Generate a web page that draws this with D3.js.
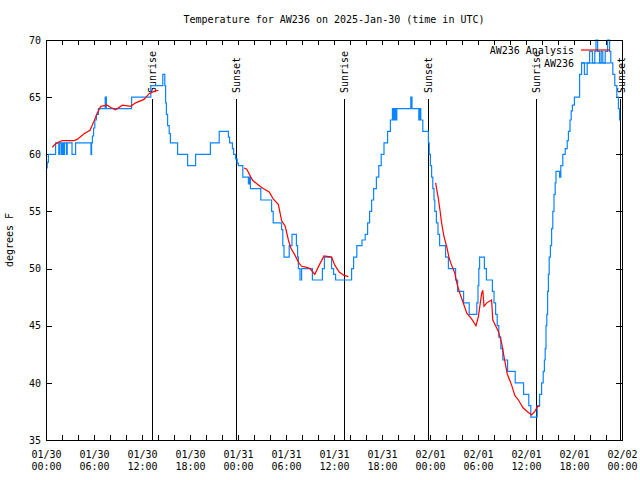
<!DOCTYPE html>
<html><head><meta charset="utf-8">
<script src="https://cdn.jsdelivr.net/npm/d3@7"></script>
<style>
body{margin:0;background:#fff;}
text{font-family:"DejaVu Sans Mono",monospace;font-size:10px;fill:#000;}
</style></head>
<body><svg id="c" width="640" height="480"></svg>
<script>
// Hours since 2025-01-30 00:00 UTC
const obsHours = [0.0,0.15,0.3,1.2,1.6,1.7,1.9,2.0,2.15,2.3,2.55,2.65,3.25,3.7,5.62,5.7,5.8,5.95,6.1,6.3,6.55,7.4,7.55,10.7,13.1,14.6,14.85,14.95,15.05,15.2,15.4,15.55,16.45,17.7,18.7,20.55,21.65,22.8,22.95,23.3,23.45,23.7,23.9,24.05,24.6,25.3,25.4,25.55,26.85,28.2,28.4,29.45,29.6,29.75,30.4,30.75,31.3,31.45,31.55,31.75,31.95,33.3,34.55,34.8,35.7,35.95,36.2,38.2,38.45,38.85,39.5,39.9,40.2,40.45,40.7,40.95,41.3,41.6,41.9,42.25,42.7,43.05,43.3,43.45,43.55,43.7,43.85,45.6,45.75,46.6,46.7,46.85,47.1,47.8,47.9,48.05,48.2,48.35,48.5,48.6,48.8,49.0,49.2,49.95,50.3,51.2,51.45,52.2,52.9,53.85,54.0,54.1,54.2,54.8,55.05,55.8,56.0,56.2,56.4,56.6,56.85,57.1,57.7,58.65,59.7,60.35,60.6,61.4,61.7,61.95,62.15,62.3,62.4,62.5,62.6,62.7,62.8,62.9,63.05,63.2,63.35,63.5,63.65,63.75,64.2,64.35,64.6,64.9,65.15,65.3,65.5,65.65,65.8,66.05,66.7,66.95,67.3,67.65,67.95,68.3,68.6,68.75,68.95,69.2,69.4,69.6,69.9,70.2,70.45,70.6,70.85,71.1,71.35,71.55,71.7,71.8];
const obsTemps = [58.8,59.3,60,61,60,61,60,61,60,61,60,61,60,61,60,61,61.6,62.3,63,63.5,64,65,64,65,66,67,66,64.5,63.5,62.5,61.8,61,60,59,60,61,62,61.5,61,60.5,60,59.6,59.2,59,58,57.4,58,57,56,55,54,53.4,52,51,52,53,52,51,50,49,50,49,50,51,50,49.5,49,50,51,52,52.5,53,54,55,56,57,58,59,60,61,62,63,64,63,64,63,64,65,64,63,64,63,62,61,60,59,58,57,56,55,54,53,52,51,50,49,48,47,46,47,48.5,50,51,50,49,48,47,46,45,44,43,42,41,40,39,38,37,38,39,40,41,42,43,45,46,48,49.5,51,52,53.5,55,56.5,57.5,58.5,58,59,60,60.5,61.2,62,63,63.8,64.3,65,67,68,67,68,69,68,69,70,69,68,69,68,69,70,69,68,67,66,65,64,63,63];

const anaHours = [0.8,1.0,1.4,2.05,3.5,3.9,4.75,5.5,6.0,6.4,6.85,7.65,8.1,8.7,9.55,10.6,11.2,12.25,12.9,13.5,14.05,
  null,
  24.75,25.1,25.6,25.85,26.75,27.15,27.9,28.4,29.05,29.45,29.9,30.3,30.6,31.1,31.6,31.95,32.6,33.0,33.6,34.15,34.75,35.7,36.1,36.65,37.25,37.8,
  null,
  48.7,49.05,49.25,49.45,49.75,50.1,50.4,50.7,51.1,51.4,51.75,51.95,52.6,53.2,53.75,54.05,54.45,54.6,54.75,55.1,55.7,55.85,56.55,56.95,57.25,57.65,58.2,58.6,59.05,59.65,60.3,60.7,61.1,61.4,61.75];
const anaTemps = [60.6,60.8,61,61.2,61.2,61.3,61.8,62.1,62.9,63.6,64.2,64.3,64.1,63.9,64.3,64.2,64.5,64.8,65.3,65.5,65.6,
  null,
  58.8,58.7,58,57.7,57.2,57,56.7,56.1,55.6,54.2,53.7,52.5,51.8,51.2,50.5,50.2,50.1,50,49.5,50.3,51.1,51,50.3,49.7,49.4,49.3,
  null,
  57.5,56.1,55.1,54,52.8,51.9,50.9,50.3,49.6,48.6,47.8,47.4,46.1,45.6,45,45.8,47.8,48.1,46.7,47,47.25,45.5,44.5,43.5,42.3,40.8,39.8,38.9,38.5,37.8,37.4,37.2,37.5,37.9,38];

const sunHours = [13.25,23.75,37.25,47.75,61.25,71.85];
const sunLabels = ["Sunrise","Sunset","Sunrise","Sunset","Sunrise","Sunset"];

const xTickHours = [0,6,12,18,24,30,36,42,48,54,60,66,72];
const xTickDates = ["01/30","01/30","01/30","01/30","01/31","01/31","01/31","01/31","02/01","02/01","02/01","02/01","02/02"];
const xTickTimes = ["00:00","06:00","12:00","18:00","00:00","06:00","12:00","18:00","00:00","06:00","12:00","18:00","00:00"];
const yTicks = [35,40,45,50,55,60,65,70];

const seriesNames = ["AW236 Analysis","AW236"];
const seriesColors = ["#ff0000","#0a84ff"];

const svg = d3.select("#c");
const L=46,R=622,T=40,B=440;
const x = d3.scaleLinear().domain([0,72]).range([L,R]);
const y = d3.scaleLinear().domain([35,70]).range([B,T]);

// title
svg.append("text").attr("x",(L+R)/2).attr("y",23).attr("text-anchor","middle")
  .text("Temperature for AW236 on 2025-Jan-30 (time in UTC)");
// y label
svg.append("text").attr("transform","translate(13,240) rotate(-90)").attr("text-anchor","middle")
  .text("degrees F");

// tick marks (inward) on four sides
const minor = d3.range(0,73,2);
function tickAxis(ax, tr){
  const g = svg.append("g").attr("transform",tr).call(ax);
  g.select(".domain").remove();
  g.selectAll("text").remove();
  g.selectAll("line").attr("stroke","#000").attr("shape-rendering","crispEdges");
}
tickAxis(d3.axisBottom(x).tickValues(minor).tickSize(-5), `translate(0,${B})`);
tickAxis(d3.axisTop(x).tickValues(minor).tickSize(-5), `translate(0,${T})`);
tickAxis(d3.axisLeft(y).tickValues(yTicks).tickSize(-6), `translate(${L},0)`);
tickAxis(d3.axisRight(y).tickValues(yTicks).tickSize(-6), `translate(${R},0)`);

// y labels
const ya = svg.append("g").attr("transform",`translate(${L},0)`)
  .call(d3.axisLeft(y).tickValues(yTicks).tickSize(0).tickPadding(5).tickFormat(d3.format("d")));
ya.select(".domain").remove();
ya.selectAll("text").style("font-family","DejaVu Sans Mono, monospace").style("font-size","10px").attr("fill","#000");

// x labels (two lines)
const xa = svg.append("g").attr("transform",`translate(0,${B})`)
  .call(d3.axisBottom(x).tickValues(xTickHours).tickSize(0).tickFormat(""));
xa.select(".domain").remove();
xa.selectAll(".tick").each(function(d,i){
  const t = d3.select(this).append("text").attr("text-anchor","middle")
    .style("font-family","DejaVu Sans Mono, monospace").style("font-size","10px").attr("fill","#000");
  t.append("tspan").attr("x",0).attr("y",18).text(xTickDates[i]);
  t.append("tspan").attr("x",0).attr("y",30).text(xTickTimes[i]);
});

// sunrise/sunset
sunHours.forEach((h,i)=>{
  svg.append("line").attr("x1",x(h)).attr("x2",x(h)).attr("y1",99).attr("y2",B)
    .attr("stroke","#000").attr("stroke-width",1).attr("shape-rendering","crispEdges");
  svg.append("text").attr("transform",`translate(${x(h)+4},93) rotate(-90)`)
    .attr("text-anchor","start").text(sunLabels[i]);
});

// observed (step) line
const obs = obsHours.map((h,i)=>[h,obsTemps[i]]);
svg.append("path").datum(obs)
  .attr("d", d3.line().x(d=>x(d[0])).y(d=>y(d[1])).curve(d3.curveStepAfter))
  .attr("fill","none").attr("stroke",seriesColors[1]).attr("stroke-width",1.2);

// analysis line
const ana = anaHours.map((h,i)=>[h,anaTemps[i]]);
svg.append("path").datum(ana)
  .attr("d", d3.line().defined(d=>d[0]!==null).x(d=>x(d[0])).y(d=>y(d[1])))
  .attr("fill","none").attr("stroke",seriesColors[0]).attr("stroke-width",1.2);

// border
svg.append("rect").attr("x",L).attr("y",T).attr("width",R-L).attr("height",B-T)
  .attr("fill","none").attr("stroke","#000").attr("shape-rendering","crispEdges");

// legend
seriesNames.forEach((n,i)=>{
  const ly = 50 + i*13;
  svg.append("text").attr("x",574).attr("y",ly+4).attr("text-anchor","end").text(n);
  svg.append("line").attr("x1",581).attr("x2",610).attr("y1",ly).attr("y2",ly)
    .attr("stroke",seriesColors[i]).attr("stroke-width",1.2);
});
</script></body></html>
